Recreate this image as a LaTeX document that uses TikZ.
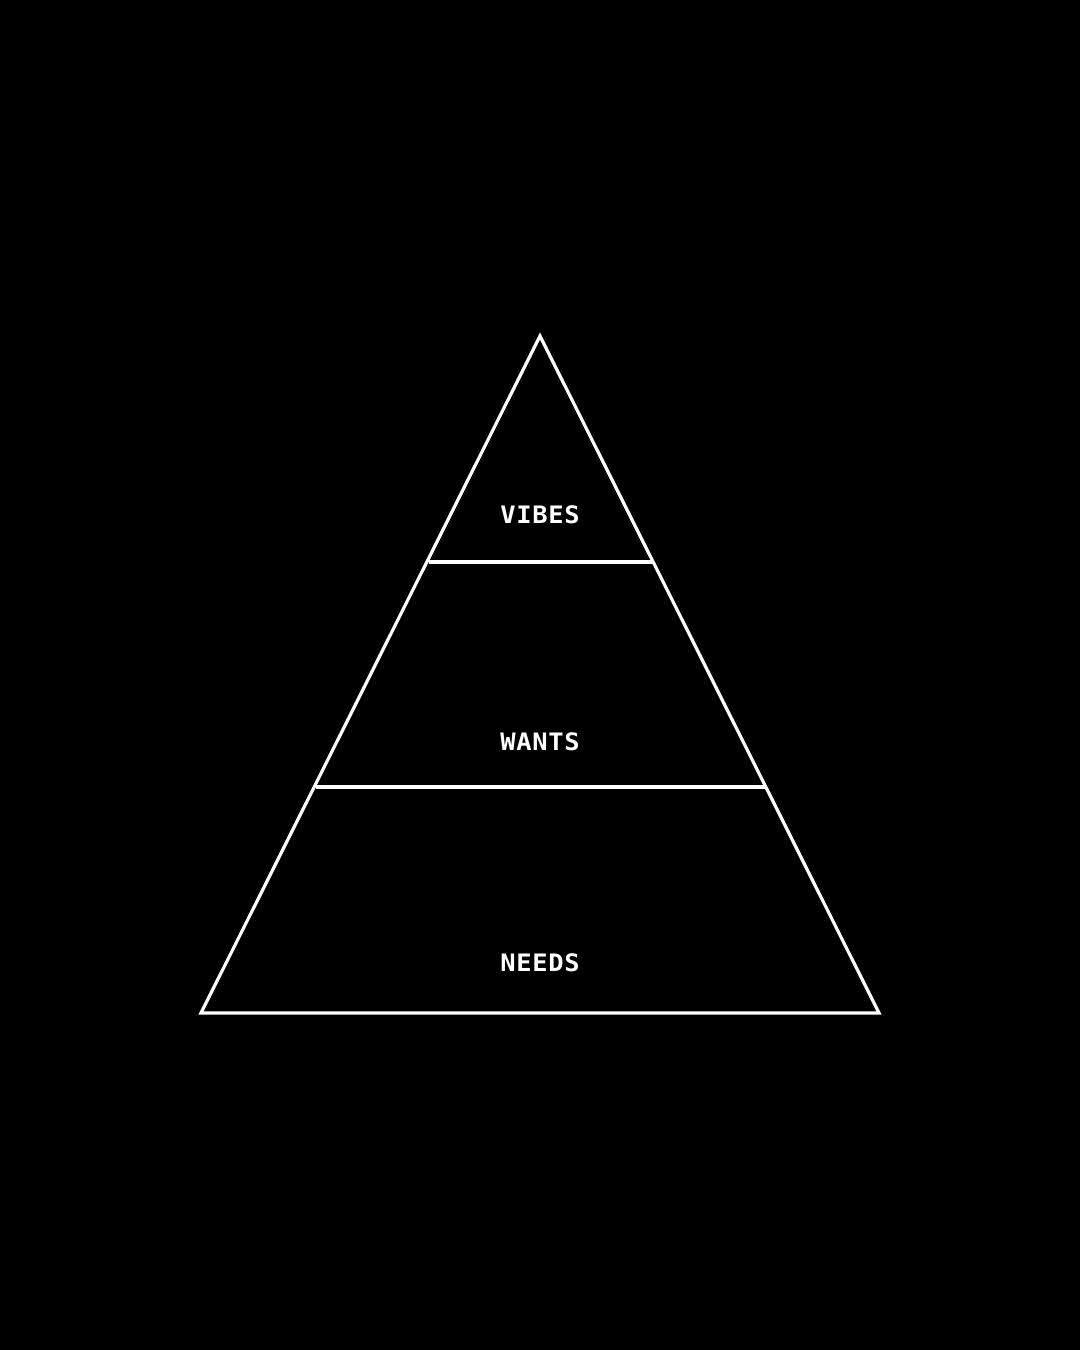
\documentclass[tikz,border=0pt]{standalone}
\usepackage{fontspec}
\newfontfamily\labelfont[LetterSpace=3,FakeStretch=1.06]{DejaVu Sans Mono Bold}
\begin{document}
\begin{tikzpicture}[x=1pt,y=-1pt,
  edge/.style={draw=white,line width=3.2pt,line join=miter},
  tier/.style={text=white,font=\labelfont\fontsize{24}{24}\selectfont,inner sep=0pt}]
\fill[black] (0,0) rectangle (1080,1350);
\useasboundingbox (0,0) rectangle (1080,1350);
\coordinate (apex) at (540,336);
\coordinate (bl) at (201,1013);
\coordinate (br) at (879,1013);
\draw[edge] (apex) -- (bl) -- (br) -- cycle;
\coordinate (a1) at (428.5,562);
\coordinate (b1) at (651.5,562);
\coordinate (a2) at (315.5,787);
\coordinate (b2) at (764.5,787);
\draw[edge] (a1) -- (b1);
\draw[edge] (a2) -- (b2);
\node[tier] (vibes) at (540,515) {VIBES};
\node[tier] (wants) at (540,742) {WANTS};
\node[tier] (needs) at (540,963) {NEEDS};
\end{tikzpicture}
\end{document}
